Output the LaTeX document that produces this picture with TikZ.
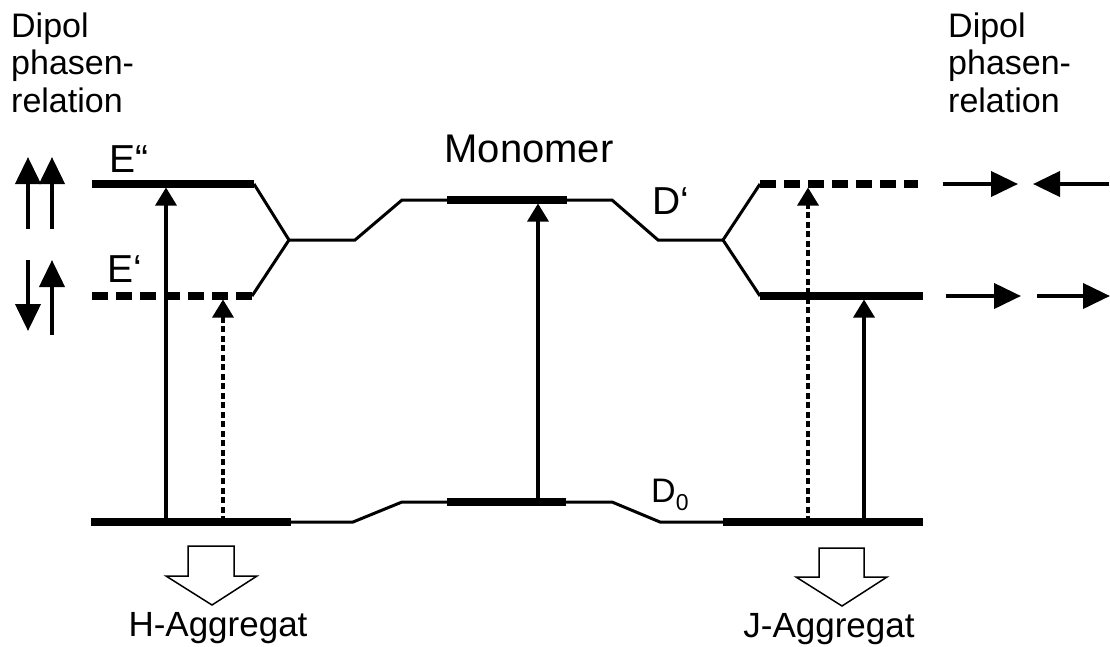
\documentclass[tikz,border=0pt]{standalone}
\usepackage{fontspec}
\setmainfont{Liberation Sans}
\usetikzlibrary{arrows.meta}
\begin{document}
\begin{tikzpicture}[x=1pt,y=-1pt,
 thinlvl/.style={line width=3pt, line join=miter},
 thicklvl/.style={line width=7.5pt},
 dashlvl/.style={line width=7.5pt, dash pattern=on 16pt off 8pt},
 trans/.style={line width=3.3pt, -{Triangle[length=18pt,width=21pt]}},
 transd/.style={trans, dash pattern=on 6pt off 3.5pt},
 dip/.style={line width=4pt, -{Triangle[length=27pt,width=25pt]}},
 lab/.style={inner sep=0pt, anchor=base west, font=\fontsize{39}{42}\selectfont},
 dtxt/.style={inner sep=0pt, anchor=base west, font=\fontsize{34}{37}\selectfont},
 agg/.style={inner sep=0pt, anchor=base, font=\fontsize{35}{38}\selectfont},
 block/.style={draw, line width=1.5pt, fill=white, line join=miter}]
\useasboundingbox (0,0) rectangle (1110,646);
% upper levels
\coordinate (Hpp0) at (92,184); \coordinate (Hpp1) at (254,184);
\coordinate (Hp0) at (92,296); \coordinate (Hp1) at (252,296);
\coordinate (Hs) at (289,240); \coordinate (Ms1) at (355,240);
\coordinate (Ms2) at (402,200); \coordinate (M0) at (447,200);
\coordinate (M1) at (567,200); \coordinate (Ms3) at (612,200);
\coordinate (Ms4) at (658,240); \coordinate (Js) at (723,240);
\coordinate (Jp0) at (760,184); \coordinate (Jp1) at (918,184);
\coordinate (J0) at (760,296); \coordinate (J1) at (923,296);
% ground levels
\coordinate (HG0) at (91,522); \coordinate (HG1) at (291,522);
\coordinate (G1) at (353,522); \coordinate (G2) at (402,502);
\coordinate (MG0) at (447,502); \coordinate (MG1) at (566,502);
\coordinate (G3) at (612,502); \coordinate (G4) at (660,522);
\coordinate (JG0) at (723,522); \coordinate (JG1) at (923,522);

\draw[thicklvl] (Hpp0) -- (Hpp1);
\draw[dashlvl] (Hp0) -- (Hp1);
\draw[thinlvl] (Hpp1) -- (Hs) -- (Hp1);
\draw[thinlvl] (Hs) -- (Ms1) -- (Ms2) -- (M0);
\draw[thicklvl] (M0) -- (M1);
\draw[thinlvl] (M1) -- (Ms3) -- (Ms4) -- (Js);
\draw[thinlvl] (Jp0) -- (Js) -- (J0);
\draw[dashlvl] (Jp0) -- (Jp1);
\draw[thicklvl] (J0) -- (J1);

\draw[thicklvl] (HG0) -- (HG1);
\draw[thinlvl] (HG1) -- (G1) -- (G2) -- (MG0);
\draw[thicklvl] (MG0) -- (MG1);
\draw[thinlvl] (MG1) -- (G3) -- (G4) -- (JG0);
\draw[thicklvl] (JG0) -- (JG1);

% transitions
\coordinate (t1s) at (166,522); \coordinate (t1e) at (166,187.5);
\coordinate (t2s) at (223,522); \coordinate (t2e) at (223,299.5);
\coordinate (t3s) at (538,502); \coordinate (t3e) at (538,203.5);
\coordinate (t4s) at (808,522); \coordinate (t4e) at (808,187.5);
\coordinate (t5s) at (864,522); \coordinate (t5e) at (864,299.5);
\draw[trans] (t1s) -- (t1e);
\draw[transd] (t2s) -- (t2e);
\draw[trans] (t3s) -- (t3e);
\draw[transd] (t4s) -- (t4e);
\draw[trans] (t5s) -- (t5e);

% dipole arrows left
\coordinate (L1b) at (28,229); \coordinate (L1t) at (28,157);
\coordinate (L2b) at (52,229); \coordinate (L2t) at (52,157);
\coordinate (L3t) at (28,260); \coordinate (L3b) at (28,331);
\coordinate (L4b) at (52,335); \coordinate (L4t) at (52,260);
\draw[dip] (L1b) -- (L1t);
\draw[dip] (L2b) -- (L2t);
\draw[dip] (L3t) -- (L3b);
\draw[dip] (L4b) -- (L4t);
% dipole arrows right
\coordinate (R1a) at (943,184); \coordinate (R1b) at (1018,184);
\coordinate (R2a) at (1109,184); \coordinate (R2b) at (1033,184);
\coordinate (R3a) at (946,296); \coordinate (R3b) at (1021,296);
\coordinate (R4a) at (1037,296); \coordinate (R4b) at (1110,296);
\draw[dip] (R1a) -- (R1b);
\draw[dip] (R2a) -- (R2b);
\draw[dip] (R3a) -- (R3b);
\draw[dip] (R4a) -- (R4b);

% block arrows
\draw[block] (188,546) -- (234,546) -- (234,576) -- (257,576) -- (212,605) -- (166,576) -- (188,576) -- cycle;
\draw[block] (819,548) -- (864,548) -- (864,577) -- (887,577) -- (842,606) -- (796,577) -- (819,577) -- cycle;

% texts
\node[dtxt] (dl1) at (11,37) {Dipol};
\node[dtxt] (dl2) at (11,74.5) {phasen-};
\node[dtxt] (dl3) at (11,112) {relation};
\node[dtxt] (dr1) at (948,37) {Dipol};
\node[dtxt] (dr2) at (948,74.5) {phasen-};
\node[dtxt] (dr3) at (948,112) {relation};
\node[lab, anchor=base, font=\fontsize{40}{43}\selectfont] (mono) at (529,162) {Monomer};
\node[lab] (Epp) at (109,172) {E“};
\node[lab] (Ep) at (107,282) {E‘};
\node[lab] (Dp) at (652,214) {D‘};
\node[lab, font=\fontsize{34}{36}\selectfont] (D0) at (651,502) {D\raisebox{-8pt}{\fontsize{23}{24}\selectfont 0}};
\node[agg] (Hagg) at (218,636) {H-Aggregat};
\node[agg] (Jagg) at (829,637) {J-Aggregat};
\end{tikzpicture}
\end{document}
